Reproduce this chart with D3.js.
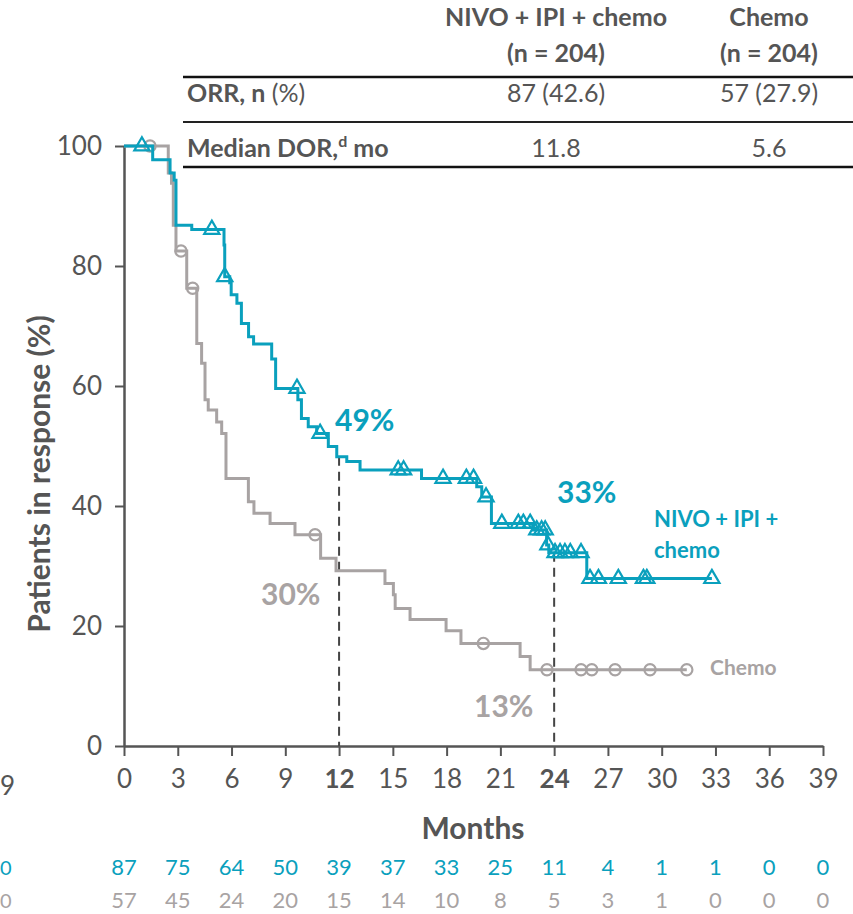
<!DOCTYPE html>
<html><head><meta charset="utf-8">
<script src="https://cdn.jsdelivr.net/npm/d3@7/dist/d3.min.js"></script>
<style>
html,body{margin:0;padding:0;background:#fff;}
svg{display:block;font-family:Lato,"Open Sans",sans-serif;}
</style></head>
<body><svg id="c" width="853" height="914"></svg>
<script>
// ---- data ----
const xTicks = [0,3,6,9,12,15,18,21,24,27,30,33,36,39];
const yTicks = [0,20,40,60,80,100];
const nivoAtRisk = [87,75,64,50,39,37,33,25,11,4,1,1,0,0];
const chemoAtRisk = [57,45,24,20,15,14,10,8,5,3,1,0,0,0];
// step curves: [month, % in response after the step]
const nivoSteps = [[0,100],[1.6,97.7],[2.57,95.5],[2.8,94.3],[2.9,86.8],[3.78,86.1],[5.58,83.5],[5.62,78.2],
  [5.9,77.2],[5.98,75.2],[6.3,73.8],[6.55,70.4],[6.95,68.2],[7.23,67.0],[8.24,64.5],[8.46,59.6],[9.7,57.7],
  [9.9,54.6],[10.28,53.2],[10.75,52.1],[11.4,49.9],[11.87,48.2],[12.43,47.4],[13.17,46.0],[16.6,44.6],
  [19.68,43.2],[19.96,41.5],[20.5,37.1],[22.8,36.0],[23.58,33.5],[23.7,32.2],[25.82,27.9]];
const nivoEnd = 32.8;
const nivoCensor = [1.0,4.9,5.62,9.65,10.94,15.3,15.6,17.8,19.1,19.5,20.2,21.08,22.0,22.28,22.66,23.03,23.3,23.5,23.65,
  24.05,24.33,24.6,24.9,25.5,26.0,26.47,27.58,28.98,29.17,32.8];
const chemoSteps = [[0,100],[2.47,95.5],[2.65,93.8],[2.75,86.8],[2.9,82.5],[3.5,76.3],[4.06,67.1],[4.33,63.8],
  [4.52,57.7],[4.7,56.0],[5.17,54.0],[5.45,52.1],[5.69,44.6],[6.94,40.7],[7.25,38.8],[8.15,37.1],[9.54,35.2],
  [10.97,31.3],[11.83,29.2],[14.56,27.1],[15.03,25.2],[15.13,22.9],[15.96,21.1],[17.97,19.2],[18.8,17.1],
  [22.1,14.9],[22.66,12.7]];
const chemoEnd = 31.4;
const chemoCensor = [1.45,3.18,3.83,10.66,20.05,23.6,25.5,26.1,27.4,29.35,31.4];
const landmarks = [{t:12, nivo:"49%", chemo:"30%"},{t:24, nivo:"33%", chemo:"13%"}];
const tableHead = [["NIVO + IPI + chemo","(n = 204)"],["Chemo","(n = 204)"]];
const tableRows = [{label:"ORR, n", extra:" (%)", sup:"", tail:"", vals:["87 (42.6)","57 (27.9)"]},
                   {label:"Median DOR,", extra:"", sup:"d", tail:" mo", vals:["11.8","5.6"]}];

// ---- drawing ----
const teal = "#0aa0bd", gray = "#a8a3a3", dark = "#555555";
const svg = d3.select("#c");
svg.append("rect").attr("width",853).attr("height",914).attr("fill","#fff");
const x = d3.scaleLinear().domain([0,39]).range([124,823]);
const y = d3.scaleLinear().domain([0,100]).range([746,146]);

// table
const colX = [556, 769];
const TF = 25;
tableHead.forEach((h,i)=>{
  svg.append("text").attr("x",colX[i]).attr("y",26).attr("text-anchor","middle")
    .attr("font-size",TF).attr("font-weight",700).attr("fill",dark).text(h[0]);
  svg.append("text").attr("x",colX[i]).attr("y",62).attr("text-anchor","middle")
    .attr("font-size",TF).attr("font-weight",700).attr("fill",dark).text(h[1]);
});
svg.append("line").attr("x1",183).attr("x2",853).attr("y1",77).attr("y2",77).attr("stroke","#111").attr("stroke-width",2.5);
svg.append("line").attr("x1",183).attr("x2",853).attr("y1",122).attr("y2",122).attr("stroke","#222").attr("stroke-width",2);
svg.append("line").attr("x1",183).attr("x2",853).attr("y1",167).attr("y2",167).attr("stroke","#111").attr("stroke-width",2.5);
tableRows.forEach((r,i)=>{
  const yy = [102,157][i];
  const t = svg.append("text").attr("x",187).attr("y",yy).attr("font-size",TF).attr("fill",dark);
  t.append("tspan").attr("font-weight",700).text(r.label);
  if (r.extra) t.append("tspan").text(r.extra);
  if (r.sup) t.append("tspan").attr("font-weight",700).attr("font-size",16).attr("dy",-10).text(r.sup);
  if (r.tail) t.append("tspan").attr("font-weight",700).attr("dy",10).text(r.tail);
  r.vals.forEach((v,j)=>{
    svg.append("text").attr("x",colX[j]).attr("y",yy).attr("text-anchor","middle")
      .attr("font-size",TF).attr("fill",dark).text(v);
  });
});

// axes
const gx = svg.append("g").attr("transform","translate(0,746)")
  .call(d3.axisBottom(x).tickValues(xTicks).tickSize(10).tickSizeOuter(0).tickPadding(12));
const gy = svg.append("g").attr("transform","translate(124,0)")
  .call(d3.axisLeft(y).tickValues(yTicks).tickSize(9).tickSizeOuter(0).tickPadding(13));
[gx,gy].forEach(g=>{
  g.select(".domain").attr("stroke",dark).attr("stroke-width",2.5);
  g.selectAll(".tick line").attr("stroke",dark).attr("stroke-width",2);
  g.selectAll(".tick text").attr("fill",dark).attr("font-size",26).attr("font-family","Lato,sans-serif");
});
gx.selectAll(".tick text").attr("font-weight",d=>(d===12||d===24)?700:400).attr("dy","0.75em");

// neighbour-panel remnants at the left edge
svg.append("text").attr("x",0).attr("y",795).attr("font-size",26).attr("fill",dark).text("9");
svg.append("text").attr("x",0).attr("y",875).attr("font-size",20).attr("fill",teal).text("0");
svg.append("text").attr("x",0).attr("y",908).attr("font-size",20).attr("fill",gray).text("0");

// axis titles
svg.append("text").attr("transform","translate(50,474) rotate(-90)").attr("text-anchor","middle")
  .attr("font-size",30).attr("font-weight",700).attr("fill",dark).text("Patients in response (%)");
svg.append("text").attr("x",473).attr("y",839).attr("text-anchor","middle")
  .attr("font-size",30).attr("font-weight",700).attr("fill",dark).text("Months");

// at risk
xTicks.forEach((t,i)=>{
  svg.append("text").attr("x",x(t)).attr("y",875).attr("text-anchor","middle").attr("font-size",22).attr("fill",teal).text(nivoAtRisk[i]);
  svg.append("text").attr("x",x(t)).attr("y",908).attr("text-anchor","middle").attr("font-size",22).attr("fill",gray).text(chemoAtRisk[i]);
});

// landmark dashed lines
function valAt(steps,t){let v=steps[0][1];for(const s of steps){if(s[0]<=t)v=s[1];}return v;}
landmarks.forEach(l=>{
  svg.append("line").attr("x1",x(l.t)).attr("x2",x(l.t)).attr("y1",y(valAt(nivoSteps,l.t))).attr("y2",y(0))
    .attr("stroke","#444").attr("stroke-width",2).attr("stroke-dasharray","9,6");
});

// curves
function drawCurve(steps,end,censor,color,sym){
  const pts = steps.concat([[end, steps[steps.length-1][1]]]);
  const line = d3.line().x(d=>x(d[0])).y(d=>y(d[1])).curve(d3.curveStepAfter);
  svg.append("path").attr("d",line(pts)).attr("fill","none").attr("stroke",color).attr("stroke-width",3);
  censor.forEach(t=>{
    svg.append("path").attr("d",d3.symbol().type(sym).size(sym===d3.symbolTriangle?100:100)())
      .attr("transform",`translate(${x(t)},${y(valAt(steps,t))})`)
      .attr("fill","none").attr("stroke",color).attr("stroke-width",2.2);
  });
}
drawCurve(chemoSteps,chemoEnd,chemoCensor,gray,d3.symbolCircle);
drawCurve(nivoSteps,nivoEnd,nivoCensor,teal,d3.symbolTriangle);

// labels
svg.append("text").attr("x",335).attr("y",431).attr("font-size",30).attr("font-weight",700).attr("fill",teal).text(landmarks[0].nivo);
svg.append("text").attr("x",557).attr("y",503).attr("font-size",30).attr("font-weight",700).attr("fill",teal).text(landmarks[1].nivo);
svg.append("text").attr("x",261).attr("y",605).attr("font-size",30).attr("font-weight",700).attr("fill",gray).text(landmarks[0].chemo);
svg.append("text").attr("x",474).attr("y",717).attr("font-size",30).attr("font-weight",700).attr("fill",gray).text(landmarks[1].chemo);
svg.append("text").attr("x",654).attr("y",527).attr("font-size",22).attr("font-weight",700).attr("fill",teal).text("NIVO + IPI +");
svg.append("text").attr("x",654).attr("y",558).attr("font-size",22).attr("font-weight",700).attr("fill",teal).text("chemo");
svg.append("text").attr("x",710).attr("y",675).attr("font-size",21).attr("font-weight",700).attr("fill",gray).text("Chemo");
</script></body></html>
